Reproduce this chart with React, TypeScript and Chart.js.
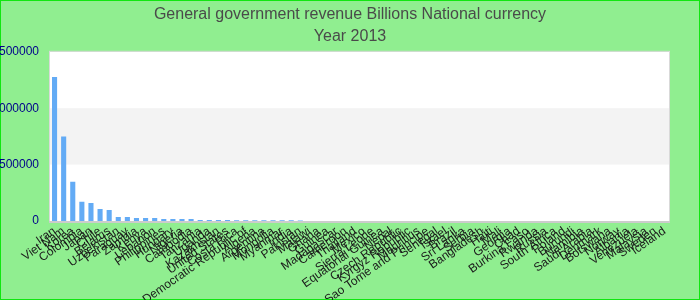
import React, { useEffect, useRef } from "react";
import { Chart, registerables } from "chart.js";

Chart.register(...registerables);

const titleLines = ["General government revenue Billions National currency", "Year 2013"];

const countries = [
  "Iran", "Viet Nam", "Korea", "Colombia", "Japan", "Chile", "Belarus", "Uzbekistan",
  "Paraguay", "Zambia", "Kenya", "Lebanon", "Philippines", "Hungary", "Nigeria", "Cambodia",
  "Tanzania", "Uganda", "Kazakhstan", "United States", "Costa Rica", "Congo, Democratic Republic of",
  "Algeria", "Argentina", "Mongolia", "Myanmar", "India", "Pakistan", "Malawi", "Ghana",
  "Guinea", "Madagascar", "Cameroon", "Thailand", "Mexico", "Sierra Leone", "Equatorial Guinea",
  "Nepal", "Czech Republic", "Kyrgyz Republic", "Mauritius", "Sao Tome and Principe", "Senegal",
  "Israel", "Brazil", "Sri Lanka", "Serbia", "Bangladesh", "Haiti", "Mali", "Georgia", "Chad",
  "Burkina Faso", "Rwanda", "Russia", "South Africa", "Poland", "Burundi", "Namibia",
  "Saudi Arabia", "Denmark", "Botswana", "Norway", "Albania", "Venezuela", "Malaysia",
  "Sweden", "Iceland",
];

const revenue = [
  1277000, 750000, 348000, 170000, 160000, 107000, 98000, 36000,
  36000, 27000, 27000, 27000, 18000, 18000, 18000, 18000,
  9000, 8500, 8000, 7800, 7500, 7000, 6800, 6500, 6200, 6000, 5800, 5500,
  600, 550, 500, 450, 400, 380, 350, 320, 300, 280, 260, 240, 220, 200,
  180, 160, 150, 140, 130, 120, 110, 100, 90, 80, 70, 60, 55, 50, 45, 40,
  35, 30, 25, 20, 15, 12, 10, 8, 5, 3,
];

const yMin = 0;
const yMax = 1500000;
const yStep = 500000;

const backgroundPlugin = {
  id: "bgPlugin",
  beforeDraw(chart: any) {
    const { ctx, chartArea, width, height } = chart;
    const y = chart.scales.y;
    ctx.save();
    ctx.fillStyle = "#90ee90";
    ctx.fillRect(0, 0, width, height);
    ctx.fillStyle = "#ffffff";
    ctx.fillRect(chartArea.left, chartArea.top, chartArea.right - chartArea.left, chartArea.bottom - chartArea.top);
    const b1 = y.getPixelForValue(1000000);
    const b0 = y.getPixelForValue(500000);
    ctx.fillStyle = "#f3f3f3";
    ctx.fillRect(chartArea.left, b1, chartArea.right - chartArea.left, b0 - b1);
    ctx.strokeStyle = "#11e611";
    ctx.lineWidth = 1;
    ctx.strokeRect(0.5, 0.5, width - 1, height - 1);
    ctx.restore();
  },
  afterDatasetsDraw(chart: any) {
    const { ctx, chartArea } = chart;
    ctx.save();
    ctx.strokeStyle = "#d9d9d9";
    ctx.lineWidth = 1;
    ctx.strokeRect(chartArea.left - 0.5, chartArea.top - 0.5, chartArea.right - chartArea.left + 1, chartArea.bottom - chartArea.top + 1);
    ctx.strokeStyle = "#cccccc";
    ctx.lineWidth = 2;
    ctx.beginPath();
    ctx.moveTo(chartArea.left - 1, chartArea.bottom + 1);
    ctx.lineTo(chartArea.right + 1, chartArea.bottom + 1);
    ctx.stroke();
    ctx.restore();
  },
};

export default function App() {
  const ref = useRef<HTMLCanvasElement | null>(null);

  useEffect(() => {
    if (!ref.current) return;
    const chart = new Chart(ref.current, {
      type: "bar",
      data: {
        labels: countries,
        datasets: [
          {
            data: revenue,
            backgroundColor: "#63abf5",
            borderWidth: 0,
            barPercentage: 0.7,
            categoryPercentage: 0.8,
          },
        ],
      },
      options: {
        animation: false,
        responsive: false,
        maintainAspectRatio: false,
        layout: { padding: { left: 0, right: 0, top: 0, bottom: 0 } },
        plugins: {
          legend: { display: false },
          tooltip: { enabled: false },
          title: {
            display: true,
            text: titleLines,
            color: "#4a4a4a",
            font: { family: "Liberation Sans, Arial, sans-serif", size: 16, weight: "normal", lineHeight: 1.4 },
            padding: { top: 3, bottom: 4 },
          },
        },
        scales: {
          x: {
            grid: { display: false, drawTicks: false },
            border: { display: false },
            ticks: {
              autoSkip: false,
              minRotation: 35,
              maxRotation: 35,
              padding: 3,
              color: "#1a1a1a",
              font: { family: "Liberation Sans, Arial, sans-serif", size: 12 },
            },
            afterFit: (scale: any) => {
              scale.height = 79;
            },
          },
          y: {
            min: yMin,
            max: yMax,
            grid: { display: false, drawTicks: false },
            border: { display: false },
            ticks: {
              stepSize: yStep,
              padding: 11,
              color: "#00008b",
              font: { family: "Liberation Sans, Arial, sans-serif", size: 12 },
              callback: (v: any) => String(v),
            },
            afterFit: (scale: any) => {
              scale.width = 50;
            },
          },
          yRight: {
            position: "right",
            min: yMin,
            max: yMax,
            grid: { display: false, drawTicks: false },
            border: { display: false },
            ticks: { display: false },
            afterFit: (scale: any) => {
              scale.width = 31;
            },
          },
        },
      },
      plugins: [backgroundPlugin],
    });
    return () => chart.destroy();
  }, []);

  return (
    <div style={{ position: "fixed", left: 0, top: 0, width: 700, height: 300 }}>
      <canvas ref={ref} width={700} height={300} style={{ display: "block" }} />
    </div>
  );
}
